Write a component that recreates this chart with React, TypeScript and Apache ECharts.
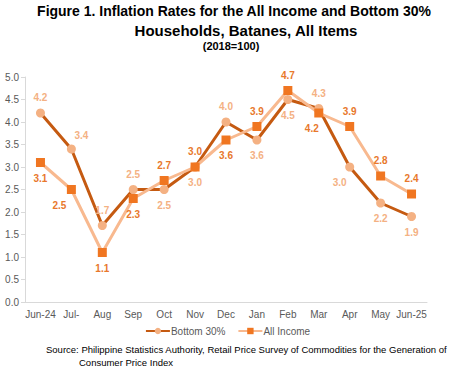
import React, { useEffect, useRef } from "react";
import * as echarts from "echarts";

const categories = ["Jun-24", "Jul-", "Aug", "Sep", "Oct", "Nov", "Dec", "Jan", "Feb", "Mar", "Apr", "May", "Jun-25"];
const bottom30 = [4.2, 3.4, 1.7, 2.5, 2.5, 3.0, 4.0, 3.6, 4.5, 4.3, 3.0, 2.2, 1.9];
const allIncome = [3.1, 2.5, 1.1, 2.3, 2.7, 3.0, 3.6, 3.9, 4.7, 4.2, 3.9, 2.8, 2.4];
const bottomLabelPos = ["top", "top", "top", "top", "bottom", "bottom", "top", "bottom", "bottom", "top", "bottom", "bottom", "bottom"];
const bottomLabelOff = [[0, 0], [10, 2], [0, 0], [0, 0], [0, 0], [0, 0], [0, 0], [0, 0], [0, 0], [0, 0], [-10, 0], [0, 0], [0, 0]];
const allLabelPos = ["bottom", "bottom", "bottom", "bottom", "top", "top", "bottom", "top", "top", "bottom", "top", "top", "top"];
const allLabelOff = [[0, 0], [-12, 0], [0, 0], [0, 0], [0, 0], [0, 0], [0, 0], [0, 0], [0, 0], [-7, 0], [0, 0], [0, 0], [0, 0]];

const FONT = "'Liberation Sans', Arial, sans-serif";

export default function App() {
  const ref = useRef<HTMLDivElement>(null);
  useEffect(() => {
    if (!ref.current) return;
    const chart = echarts.init(ref.current, undefined, { renderer: "svg" });
    const lbl = (c: string) => ({
      show: true,
      color: c,
      fontSize: 10,
      fontWeight: "bold" as const,
      fontFamily: FONT,
      formatter: (p: any) => Number(p.value).toFixed(1),
      distance: 6,
    });
    chart.setOption({
      animation: false,
      textStyle: { fontFamily: FONT },
      graphic: [
        { type: "text", x: 234, y: 4, style: { text: "Figure 1. Inflation Rates for the All Income and Bottom 30%", font: `bold 14px ${FONT}`, fill: "#000", textAlign: "center" } },
        { type: "text", x: 246, y: 23, style: { text: "Households, Batanes, All Items", font: `bold 15px ${FONT}`, fill: "#000", textAlign: "center" } },
        { type: "text", x: 231, y: 40, style: { text: "(2018=100)", font: `bold 11px ${FONT}`, fill: "#000", textAlign: "center" } },
        { type: "text", x: 46, y: 344, style: { text: "Source: Philippine Statistics Authority, Retail Price Survey of Commodities for the Generation of", font: `9.5px ${FONT}`, fill: "#000" } },
        { type: "text", x: 79, y: 357, style: { text: "Consumer Price Index", font: `9.5px ${FONT}`, fill: "#000" } },
      ],
      grid: { left: 25, right: 28, top: 77, bottom: 74, containLabel: false },
      legend: {
        top: 321,
        left: "center",
        itemWidth: 24,
        itemHeight: 8,
        itemGap: 12,
        textStyle: { color: "#595959", fontSize: 10, fontFamily: FONT, padding: [0, 0, 0, -4] },
        data: ["Bottom 30%", "All Income"],
      },
      xAxis: {
        type: "category",
        data: categories,
        boundaryGap: true,
        axisLine: { show: true, lineStyle: { color: "#d9d9d9", width: 1 } },
        axisTick: { show: false },
        axisLabel: { color: "#595959", fontSize: 10, fontFamily: FONT, margin: 7, interval: 0 },
      },
      yAxis: {
        type: "value",
        min: 0,
        max: 5,
        interval: 0.5,
        axisLine: { show: true, lineStyle: { color: "#d9d9d9", width: 1 } },
        axisTick: { show: true, length: 4, lineStyle: { color: "#d9d9d9" } },
        splitLine: { show: false },
        axisLabel: { color: "#595959", fontSize: 10, fontFamily: FONT, margin: 6, formatter: (v: number) => v.toFixed(1) },
      },
      series: [
        {
          name: "Bottom 30%",
          type: "line",
          data: bottom30.map((v, i) => ({ value: v, label: { position: bottomLabelPos[i], offset: bottomLabelOff[i] } })),
          symbol: "circle",
          symbolSize: 9,
          lineStyle: { color: "#c55a11", width: 3 },
          itemStyle: { color: "#f4b183" },
          label: lbl("#f4b183"),
          z: 2,
        },
        {
          name: "All Income",
          type: "line",
          data: allIncome.map((v, i) => ({ value: v, label: { position: allLabelPos[i], offset: allLabelOff[i] } })),
          symbol: "rect",
          symbolSize: 9,
          lineStyle: { color: "#f8b98f", width: 3 },
          itemStyle: { color: "#f07621" },
          label: lbl("#e8782c"),
          z: 3,
        },
      ],
    });
    return () => chart.dispose();
  }, []);
  return <div ref={ref} style={{ width: 455, height: 376, position: "absolute", left: 0, top: 0, background: "#fff" }} />;
}
